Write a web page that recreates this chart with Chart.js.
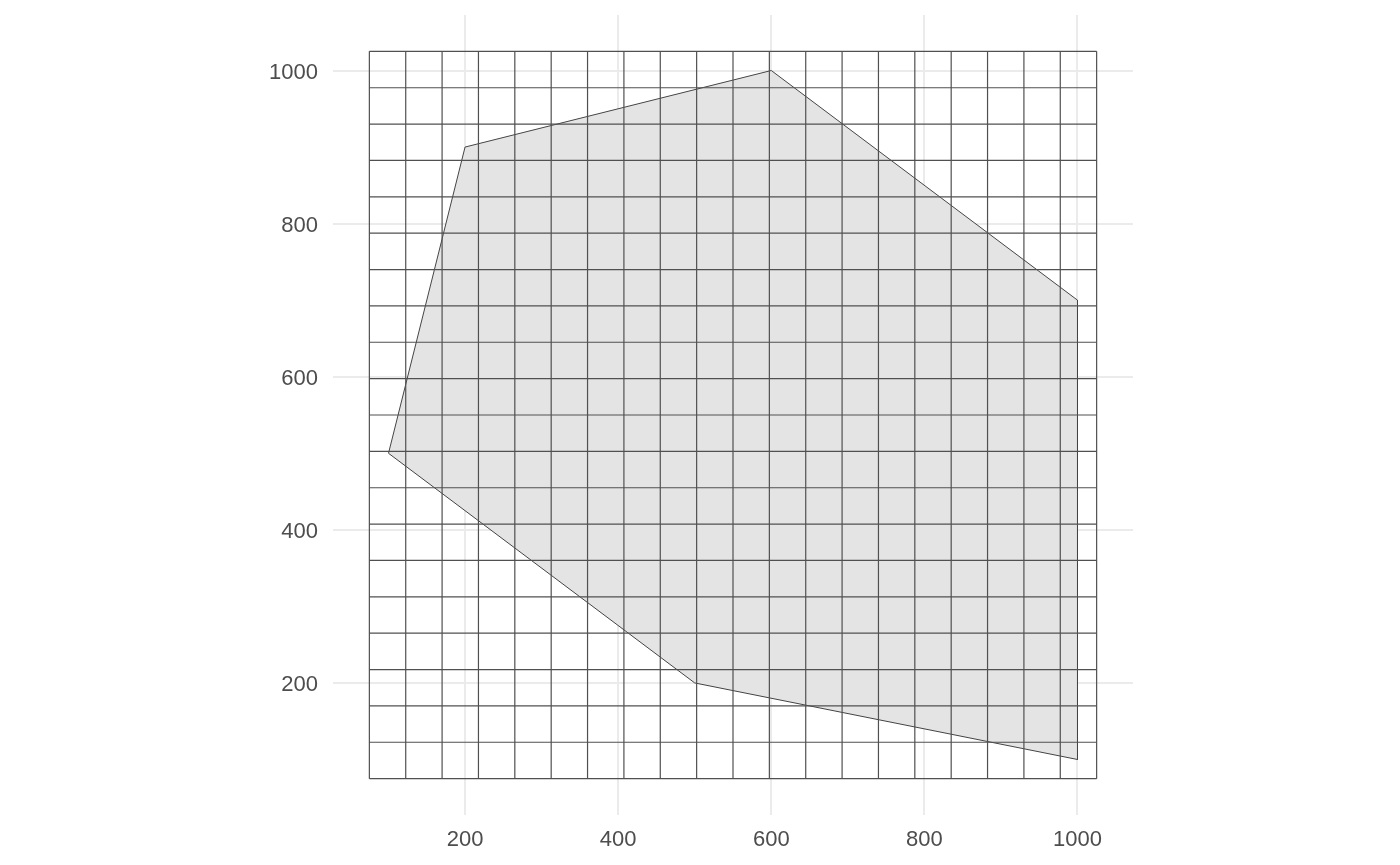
<!DOCTYPE html>
<html>
<head>
<meta charset="utf-8">
<script src="https://cdn.jsdelivr.net/npm/chart.js@4/dist/chart.umd.min.js"></script>
<style>
  html, body { margin: 0; padding: 0; background: #ffffff; }
  canvas { display: block; }
</style>
</head>
<body>
<canvas id="polyChart" width="1400" height="865"></canvas>
<script>
// polygon vertices (closed ring)
const polyX = [100, 200, 600, 1000, 1000, 500, 100];
const polyY = [500, 900, 1000, 700, 100, 200, 500];

// grid cell edges (20 x 20 cells)
const gridEdges = [75, 122.5, 170, 217.5, 265, 312.5, 360, 407.5, 455, 502.5, 550,
  597.5, 645, 692.5, 740, 787.5, 835, 882.5, 930, 977.5, 1025];

// axis breaks
const xTicks = [200, 400, 600, 800, 1000];
const yTicks = [200, 400, 600, 800, 1000];
const xRange = [27.5, 1072.5];
const yRange = [27.5, 1072.5];

const gridColor = '#505050';
const lo = gridEdges[0];
const hi = gridEdges[gridEdges.length - 1];

const datasets = [];
gridEdges.forEach(v => {
  datasets.push({ data: [{ x: v, y: lo }, { x: v, y: hi }], order: 0 });
  datasets.push({ data: [{ x: lo, y: v }, { x: hi, y: v }], order: 0 });
});
datasets.forEach(d => Object.assign(d, {
  showLine: true, borderColor: gridColor, borderWidth: 1.2, pointRadius: 0, fill: false
}));

datasets.push({
  data: polyX.map((x, i) => ({ x, y: polyY[i] })),
  showLine: true,
  fill: 'shape',
  backgroundColor: '#e4e4e4',
  borderColor: '#444444',
  borderWidth: 1,
  pointRadius: 0,
  tension: 0,
  order: 1
});

const tickFont = { family: '"Liberation Sans", Arial, sans-serif', size: 22 };

new Chart(document.getElementById('polyChart'), {
  type: 'scatter',
  data: { datasets },
  options: {
    responsive: false,
    animation: false,
    devicePixelRatio: 1,
    layout: { padding: { top: 15, right: 267, bottom: 0, left: 0 } },
    plugins: { legend: { display: false }, tooltip: { enabled: false } },
    scales: {
      x: {
        type: 'linear',
        min: xRange[0],
        max: xRange[1],
        afterBuildTicks: s => { s.ticks = xTicks.map(v => ({ value: v })); },
        afterFit: s => { s.height = 50; s.paddingLeft = 0; s.paddingRight = 0; },
        border: { display: false },
        grid: { color: '#ebebeb', lineWidth: 2, drawTicks: false },
        ticks: { color: '#4d4d4d', font: tickFont, padding: 12, maxRotation: 0, callback: v => String(v) }
      },
      y: {
        type: 'linear',
        min: yRange[0],
        max: yRange[1],
        afterBuildTicks: s => { s.ticks = yTicks.map(v => ({ value: v })); },
        afterFit: s => { s.width = 333; s.paddingTop = 0; s.paddingBottom = 0; },
        border: { display: false },
        grid: { color: '#ebebeb', lineWidth: 2, drawTicks: false },
        ticks: { color: '#4d4d4d', font: tickFont, padding: 15, labelOffset: 2, callback: v => String(v) }
      }
    }
  }
});
</script>
</body>
</html>
